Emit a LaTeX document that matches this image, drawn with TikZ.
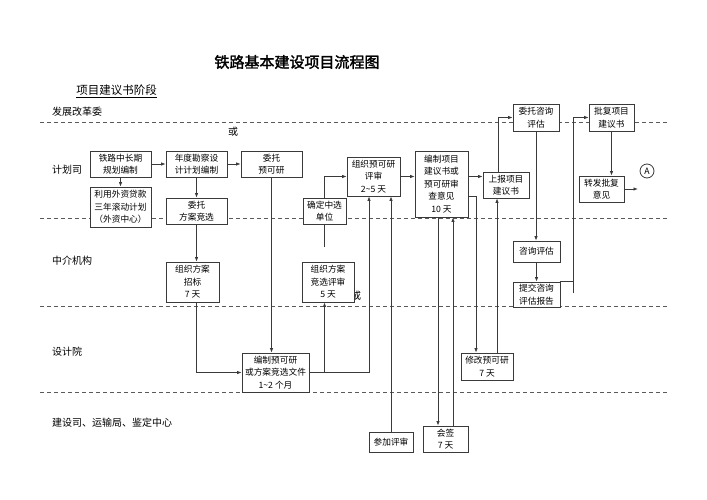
\documentclass[tikz,border=0pt]{standalone}
\usepackage{fontspec}
\setmainfont{Noto Sans CJK SC}[AutoFakeBold=2]
\usetikzlibrary{arrows.meta,calc}
\definecolor{Ink}{HTML}{3A3A3A}
\definecolor{LaneGray}{HTML}{5A5A5A}
\tikzset{
  box/.style={draw=Ink, fill=white, line width=0.8pt, inner sep=0pt, align=center, font=\fontsize{8.7}{12.5}\selectfont},
  lane/.style={draw=LaneGray, line width=0.8pt, dash pattern=on 4pt off 3pt},
  lanetext/.style={anchor=west, inner sep=0pt, font=\fontsize{10}{12}\selectfont},
  arr/.style={-{Latex[length=4.5pt,width=3.5pt]}, line width=0.8pt, draw=Ink},
  wire/.style={line width=0.8pt, draw=Ink}
}
\begin{document}
\begin{tikzpicture}[x=1pt,y=-1pt]
\useasboundingbox[fill=white] (0,0) rectangle (707,500);
\node[font=\fontsize{15}{18}\selectfont\bfseries] (title) at (297,62) {铁路基本建设项目流程图};
\node[font=\fontsize{11.5}{14}\selectfont] (stage) at (116.5,91) {\underline{项目建议书阶段}};
\foreach \y in {122,218,306,392}
  \draw[lane] (40,\y) -- (668,\y);
\node[lanetext] (lnNDRC) at (52,112) {发展改革委};
\node[lanetext] (lnPlan) at (52,170) {计划司};
\node[lanetext] (lnAgent) at (52,261) {中介机构};
\node[lanetext] (lnDesign) at (52,352) {设计院};
\node[lanetext] (lnBuild) at (52,423) {建设司、运输局、鉴定中心};
\node[font=\fontsize{10}{12}\selectfont] (orA) at (233,132) {或};
\node[font=\fontsize{10}{12}\selectfont] (orB) at (356,296) {或};

\node[box, minimum width=61pt, minimum height=26pt] (plan) at (120.5,164) {铁路中长期\\规划编制};
\node[box, minimum width=61pt, minimum height=40pt] (loan) at (120.5,207) {利用外资贷款\\三年滚动计划\\（外资中心）};
\node[box, minimum width=61pt, minimum height=26pt] (annual) at (196.5,164) {年度勘察设\\计计划编制};
\node[box, minimum width=61pt, minimum height=26pt] (entrust) at (271.5,164) {委托\\预可研};
\node[box, minimum width=61pt, minimum height=26pt] (scheme) at (196.5,211) {委托\\方案竞选};
\node[box, minimum width=53pt, minimum height=40pt] (tender) at (192.5,282) {组织方案\\招标\\7 天};
\node[box, minimum width=43pt, minimum height=26pt] (chosen) at (324.5,211) {确定中选\\单位};
\node[box, minimum width=53pt, minimum height=39pt] (review) at (373.5,176.5) {组织预可研\\评审\\2\textasciitilde5 天};
\node[box, minimum width=53pt, minimum height=66pt] (opinion) at (441.5,184) {编制项目\\建议书或\\预可研审\\查意见\\10 天};
\node[box, minimum width=46pt, minimum height=26pt] (report) at (506,185) {上报项目\\建议书};
\node[box, minimum width=46pt, minimum height=27pt] (consult) at (536,117.5) {委托咨询\\评估};
\node[box, minimum width=45pt, minimum height=27pt] (approve) at (611.5,117.5) {批复项目\\建议书};
\node[box, minimum width=45pt, minimum height=26pt] (forward) at (601.5,189) {转发批复\\意见};
\node[box, circle, minimum size=14pt] (markA) at (647,171) {A};
\node[box, minimum width=47pt, minimum height=21pt] (evaluate) at (536.5,251.5) {咨询评估};
\node[box, minimum width=47pt, minimum height=25pt] (submit) at (536.5,294.5) {提交咨询\\评估报告};
\node[box, minimum width=52pt, minimum height=40pt] (compete) at (328,282) {组织方案\\竞选评审\\5 天};
\node[box, minimum width=67pt, minimum height=39pt] (compile) at (275.5,372.5) {编制预可研\\或方案竞选文件\\1\textasciitilde2 个月};
\node[box, minimum width=52pt, minimum height=27pt] (revise) at (487,366.5) {修改预可研\\7 天};
\node[box, minimum width=44pt, minimum height=20pt] (attend) at (391,442) {参加评审};
\node[box, minimum width=45pt, minimum height=26pt] (sign) at (445.5,439) {会签\\7 天};
\coordinate (chosenEnd) at (324.5,247);
\coordinate (relay) at (573,293);
\coordinate (fwdEnd) at (638,189);

\draw[arr] (plan) -- (loan);
\draw[arr] (plan) -- (annual);
\draw[arr] (annual) -- (entrust);
\draw[arr] (annual) -- (scheme);
\draw[arr] (scheme.south) -- (scheme.south |- tender.north);
\draw[arr] (tender.south -| scheme.south) |- (compile.west);
\draw[arr] (entrust.south) -- (entrust.south |- compile.north);
\draw[arr] (compile.east) -| (compete.south -| chosen.south);
\draw[arr] (compile.east) -| ([xshift=-4.5pt]review.south);
\draw[arr] (attend.north) -- (attend.north |- review.south);
\draw[arr] (chosen.north) |- (review.west);
\draw[wire] (chosen.south) -- (chosenEnd);
\draw[arr] (review.east) -- (review.east -| opinion.west);
\draw[arr] (review.east -| opinion.east) -- (review.east -| report.west);
\draw[arr] ([yshift=-12pt]opinion.east) -| ([xshift=-11pt]revise.north);
\draw[arr] ([xshift=10pt]revise.north) -- ([xshift=10pt]revise.north |- report.south);
\draw[arr] ([xshift=-7.5pt]sign.north |- opinion.south) -- ([xshift=-7.5pt]sign.north);
\draw[arr] ([xshift=7.5pt]sign.north) -- ([xshift=7.5pt]sign.north |- opinion.south);
\draw[arr] ([xshift=-8pt]report.north) |- (consult.west);
\draw[arr] (consult.south) -- (consult.south |- evaluate.north);
\draw[arr] (evaluate) -- (submit);
\draw[wire] (submit.north east) -- (submit.north east -| relay);
\draw[arr] (relay) |- (approve.west);
\draw[arr] (approve.south) -- (approve.south |- forward.north);
\draw[arr] (forward.east) -- (fwdEnd);
\end{tikzpicture}
\end{document}
